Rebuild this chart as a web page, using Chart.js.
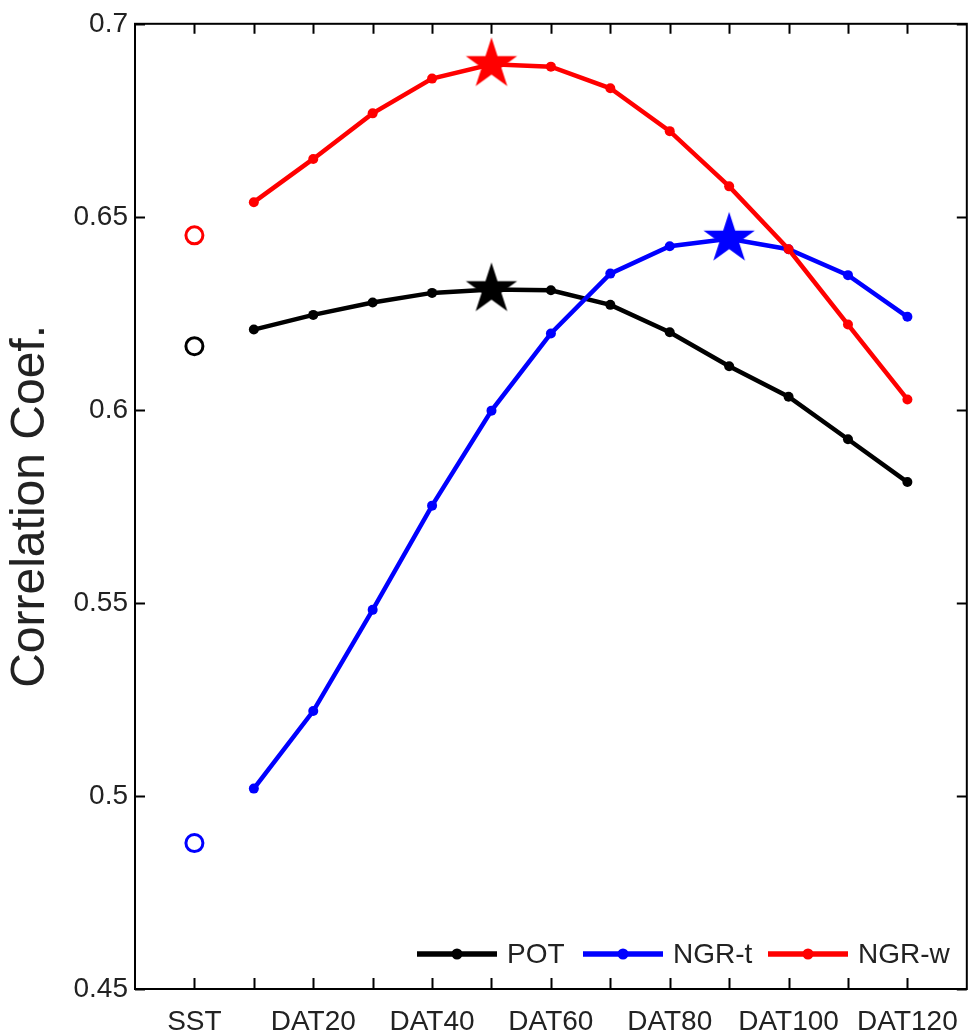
<!DOCTYPE html>
<html><head><meta charset="utf-8">
<script src="https://cdn.jsdelivr.net/npm/chart.js@4.4.1/dist/chart.umd.min.js"></script>
<style>html,body{margin:0;padding:0;background:#fff;} #wrap{width:974px;height:1033px;position:relative;}</style>
</head><body><div id="wrap"><canvas id="c"></canvas></div>
<script>
const categories = ['SST','DAT10','DAT20','DAT30','DAT40','DAT50','DAT60','DAT70','DAT80','DAT90','DAT100','DAT110','DAT120'];
const xTickLabels = ['SST','DAT20','DAT40','DAT60','DAT80','DAT100','DAT120'];
const yTickLabels = ['0.45','0.5','0.55','0.6','0.65','0.7'];
const seriesNames = ['POT','NGR-t','NGR-w'];
const seriesColors = ['#000000','#0000ff','#ff0000'];
const potDAT  = [0.6208,0.6246,0.6278,0.6303,0.6312,0.6310,0.6272,0.6201,0.6113,0.6034,0.5924,0.5813];
const ngrtDAT = [0.5019,0.5220,0.5482,0.5752,0.5998,0.6198,0.6353,0.6424,0.6443,0.6416,0.6349,0.6241];
const ngrwDAT = [0.6538,0.6650,0.6768,0.6858,0.6895,0.6889,0.6833,0.6722,0.6579,0.6416,0.6221,0.6027];
const sstPOT = 0.6165, sstNGRt = 0.4878, sstNGRw = 0.6452;

const FONT = "'Liberation Sans', Arial, Helvetica, sans-serif";
const seriesData = [potDAT, ngrtDAT, ngrwDAT];
const sstData = [sstPOT, sstNGRt, sstNGRw];

function makeStar(color, R) {
  const s = Math.ceil(2 * R + 4);
  const c = document.createElement('canvas');
  c.width = s; c.height = s;
  const ctx = c.getContext('2d');
  ctx.translate(s / 2, s / 2);
  ctx.beginPath();
  for (let i = 0; i < 10; i++) {
    const r = i % 2 === 0 ? R : R * 0.382;
    const a = -Math.PI / 2 + i * Math.PI / 5;
    ctx.lineTo(r * Math.cos(a), r * Math.sin(a));
  }
  ctx.closePath();
  ctx.fillStyle = color;
  ctx.fill();
  return c;
}

const datasets = [];
const orders = [3, 2, 1];
seriesData.forEach((arr, k) => {
  datasets.push({
    type: 'line', label: seriesNames[k],
    data: arr.map((v, i) => ({ x: i + 1, y: v })),
    borderColor: seriesColors[k], backgroundColor: seriesColors[k],
    borderWidth: 4.5, pointRadius: 5, pointBorderWidth: 0,
    pointBackgroundColor: seriesColors[k], tension: 0, fill: false,
    order: orders[k], clip: false
  });
});
seriesData.forEach((arr, k) => {
  let mi = 0;
  arr.forEach((v, i) => { if (v > arr[mi]) mi = i; });
  datasets.push({
    type: 'scatter', label: seriesNames[k] + ' max',
    data: [{ x: mi + 1, y: arr[mi] }],
    pointStyle: makeStar(seriesColors[k], 27),
    pointRadius: 27, showLine: false, order: 0, clip: false
  });
  datasets.push({
    type: 'scatter', label: seriesNames[k] + ' SST',
    data: [{ x: 0, y: sstData[k] }],
    pointStyle: 'circle', pointRadius: 8.5, pointBorderWidth: 3,
    pointBorderColor: seriesColors[k], pointBackgroundColor: 'rgba(0,0,0,0)',
    borderColor: seriesColors[k], backgroundColor: 'rgba(0,0,0,0)',
    showLine: false, order: 0, clip: false
  });
});

const framePlugin = {
  id: 'frame',
  afterDraw(chart) {
    const { ctx, chartArea: a, scales: { x, y } } = chart;
    ctx.save();
    ctx.strokeStyle = '#000';
    ctx.lineWidth = 2;
    ctx.strokeRect(a.left, a.top, a.right - a.left, a.bottom - a.top);
    ctx.beginPath();
    categories.forEach((c, i) => {
      const px = Math.round(x.getPixelForValue(i)) + 0.5;
      ctx.moveTo(px, a.bottom); ctx.lineTo(px, a.bottom - 11);
      ctx.moveTo(px, a.top); ctx.lineTo(px, a.top + 10);
    });
    yTickLabels.forEach(t => {
      const py = Math.round(y.getPixelForValue(parseFloat(t))) + 0.5;
      ctx.moveTo(a.left, py); ctx.lineTo(a.left + 10, py);
      ctx.moveTo(a.right, py); ctx.lineTo(a.right - 10, py);
    });
    ctx.stroke();
    ctx.restore();
  }
};

const legendPlugin = {
  id: 'insideLegend',
  afterDraw(chart) {
    const { ctx, chartArea: a } = chart;
    const offsets = [0, 166, 351];
    const x0 = a.left + 282, yy = a.bottom - 35;
    ctx.save();
    ctx.font = '28px ' + FONT;
    ctx.textBaseline = 'middle';
    ctx.textAlign = 'left';
    seriesNames.forEach((name, k) => {
      const sx = x0 + offsets[k];
      ctx.strokeStyle = seriesColors[k];
      ctx.lineWidth = 5.5;
      ctx.beginPath(); ctx.moveTo(sx, yy); ctx.lineTo(sx + 80, yy); ctx.stroke();
      ctx.fillStyle = seriesColors[k];
      ctx.beginPath(); ctx.arc(sx + 40, yy, 5.5, 0, Math.PI * 2); ctx.fill();
      ctx.fillStyle = '#222';
      ctx.fillText(name, sx + 90, yy + 1);
    });
    ctx.restore();
  }
};

new Chart(document.getElementById('c'), {
  type: 'line',
  data: { datasets },
  options: {
    responsive: true, maintainAspectRatio: false, animation: false, events: [],
    layout: { autoPadding: false, padding: { top: 18, right: 4, left: 0, bottom: 0 } },
    plugins: { legend: { display: false }, tooltip: { enabled: false } },
    scales: {
      x: {
        type: 'linear', min: -1, max: 13,
        grid: { display: false, drawTicks: false }, border: { display: false },
        afterBuildTicks: s => { s.ticks = categories.map((c, i) => ({ value: i })); },
        afterFit: s => { s.height = 44; },
        ticks: {
          autoSkip: false, maxRotation: 0, padding: 16, color: '#222',
          font: { family: FONT, size: 28 },
          callback: v => (xTickLabels.includes(categories[v]) ? categories[v] : '')
        }
      },
      y: {
        type: 'linear', min: 0.45, max: 0.7,
        grid: { display: false, drawTicks: false }, border: { display: false },
        afterBuildTicks: s => { s.ticks = yTickLabels.map(t => ({ value: parseFloat(t) })); },
        afterFit: s => { s.width = 135; },
        title: { display: true, text: 'Correlation Coef.', color: '#222', font: { family: FONT, size: 48 }, padding: { top: 2, bottom: 0 } },
        ticks: {
          padding: 7, color: '#222', font: { family: FONT, size: 28 },
          callback: v => { const t = yTickLabels.find(s => Math.abs(parseFloat(s) - v) < 1e-6); return t === undefined ? '' : t; }
        }
      }
    }
  },
  plugins: [framePlugin, legendPlugin]
});
</script></body></html>
